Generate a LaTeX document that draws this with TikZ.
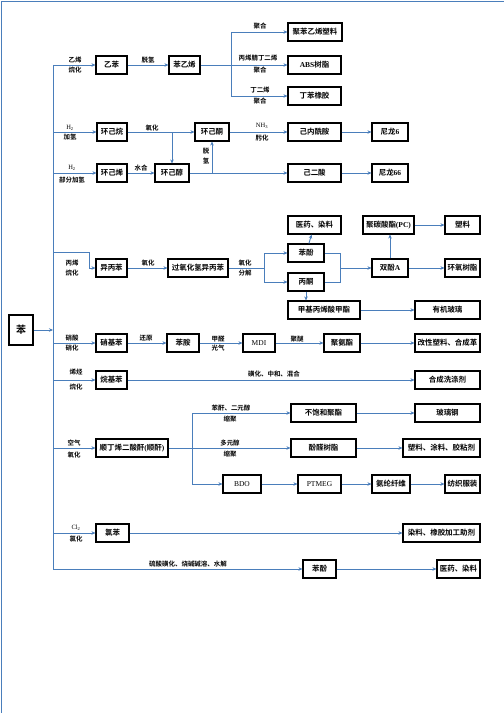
\documentclass[tikz,border=0pt]{standalone}
\usepackage{fontspec}
\setmainfont{Noto Sans CJK SC}[BoldFont={Noto Sans CJK SC Bold}]
\newfontfamily\latin{Liberation Serif}
\usetikzlibrary{arrows.meta,positioning}
\definecolor{flowblue}{HTML}{4A7EBB}

\begin{document}
\begin{tikzpicture}[x=1bp, y=-1bp, >={Stealth[length=4bp,width=3.5bp]},
  prod/.style={draw=black, line width=1.1bp, fill=white, minimum width=#1,
    minimum height=18bp, inner sep=0pt, font=\bfseries\fontsize{7.5}{8}\selectfont},
  prod/.default=32bp,
  lbl/.style={inner sep=0pt, font=\bfseries\fontsize{6.5}{7}\selectfont},
  flow/.style={->, draw=flowblue, line width=0.9bp},
  pipe/.style={draw=flowblue, line width=0.9bp}]
  \useasboundingbox (0,0) rectangle (504,713);
  %% Page frame
  \draw[pipe] (1,713) -- (1,1) -- (504,1);

  %% Source and trunk
  \node[prod=24bp, minimum height=30bp, font=\bfseries\fontsize{10}{11}\selectfont] (ben) at (21,330) {苯};
  \foreach \n/\y in {t1/65, t2/132, t3/173, t4/252, t5/343, t6/380, t7/448, t8/533, t9/569}
    \coordinate (\n) at (53,\y);
  \draw[pipe] (t1) -- (t9);
  \draw[flow] (ben) -- (ben -| t1);

  %% ── Ethylbenzene / styrene ───────────────────────────────
  \node[prod=31bp] (ebz) at (111.5,65) {乙苯};
  \node[prod=31bp] (sty) at (184.5,65) {苯乙烯};
  \node[prod=54bp] (pst) at (315,32) {聚苯乙烯塑料};
  \node[prod=53bp] (abs) at (314.5,65) {{\latin ABS}树脂};
  \node[prod=53bp] (sbr) at (314.5,96) {丁苯橡胶};
  \coordinate (stA) at (231,32);
  \coordinate (stB) at (231,96);
  \draw[flow] (t1) -- (ebz);
  \draw[flow] (ebz) -- (sty);
  \draw[pipe] (sty) -- (sty -| stA);
  \draw[pipe] (stA) -- (stB);
  \draw[flow] (stA) -- (pst);
  \draw[flow] (sty -| stA) -- (abs);
  \draw[flow] (stB) -- (sbr);

  %% ── Cyclohexane family ───────────────────────────────────
  \node[prod=30bp] (chx) at (112,132) {环己烷};
  \node[prod=34bp] (chk) at (212,132) {环己酮};
  \node[prod=53bp] (cpl) at (314.5,132) {己内酰胺};
  \node[prod=36bp] (ny6) at (390,132) {尼龙{\latin 6}};
  \node[prod=30bp] (chn) at (112,173) {环己烯};
  \node[prod=34bp] (chl) at (172,173) {环己醇};
  \node[prod=53bp] (adp) at (314.5,173) {己二酸};
  \node[prod=36bp] (ny66) at (390,173) {尼龙{\latin 66}};
  \draw[flow] (t2) -- (chx);
  \draw[flow] (chx) -- (chk);
  \draw[flow] (chx -| chl) -- (chl);
  \draw[flow] (chk) -- (cpl);
  \draw[flow] (cpl) -- (ny6);
  \draw[flow] (t3) -- (chn);
  \draw[flow] (chn) -- (chl);
  \draw[flow] (chl) -- (adp);
  \draw[flow] (chl -| chk) -- (chk);
  \draw[flow] (adp) -- (ny66);

  %% ── Cumene route ─────────────────────────────────────────
  \node[prod=31bp] (cum) at (111.5,268) {异丙苯};
  \node[prod=60bp] (chp) at (198,268) {过氧化氢异丙苯};
  \node[prod=36bp] (phe) at (306,253) {苯酚};
  \node[prod=36bp] (ace) at (306,282) {丙酮};
  \node[prod=53bp] (med) at (314.5,225) {医药、染料};
  \node[prod=72bp] (mma) at (324,310) {甲基丙烯酸甲酯};
  \node[prod=36bp] (bpa) at (390,268) {双酚{\latin A}};
  \node[prod=51bp] (pc) at (388.5,225) {聚碳酸酯{\latin (PC)}};
  \node[prod=35bp] (pls) at (462.5,225) {塑料};
  \node[prod=35bp] (epx) at (462.5,268) {环氧树脂};
  \node[prod=65bp] (pmm) at (447.5,310) {有机玻璃};
  \coordinate (cuA) at (89,252);
  \coordinate (ox) at (264,268);
  \coordinate (bp) at (340,268);
  \draw[flow] (t4) -- (cuA) |- (cum);
  \draw[flow] (cum) -- (chp);
  \draw[pipe] (chp) -- (ox);
  \draw[flow] (ox) |- (phe);
  \draw[flow] (ox) |- (ace);
  \draw[flow] (phe) -- (med);
  \draw[flow] (ace.south) -- (ace.south |- mma.north);
  \draw[pipe] (phe) -| (bp);
  \draw[pipe] (ace) -| (bp);
  \draw[flow] (bp) -- (bpa);
  \draw[flow] (bpa.north) -- (bpa.north |- pc.south);
  \draw[flow] (pc) -- (pls);
  \draw[flow] (bpa) -- (epx);
  \draw[flow] (mma) -- (pmm);

  %% ── Nitrobenzene / MDI ───────────────────────────────────
  \node[prod=31bp] (nbz) at (111.5,343) {硝基苯};
  \node[prod=32bp] (anl) at (183,343) {苯胺};
  \node[prod=32bp] (mdi) at (259,343) {{\latin\mdseries MDI}};
  \node[prod=36bp] (pur) at (342,343) {聚氨酯};
  \node[prod=65bp] (mpl) at (447.5,343) {改性塑料、合成革};
  \draw[flow] (t5) -- (nbz);
  \draw[flow] (nbz) -- (anl);
  \draw[flow] (anl) -- (mdi);
  \draw[flow] (mdi) -- (pur);
  \draw[flow] (pur) -- (mpl);

  %% ── Alkylbenzene ─────────────────────────────────────────
  \node[prod=31bp] (alb) at (111.5,380) {烷基苯};
  \node[prod=65bp] (det) at (447.5,380) {合成洗涤剂};
  \draw[flow] (t6) -- (alb);
  \draw[flow] (alb) -- (det);

  %% ── Maleic anhydride ─────────────────────────────────────
  \node[prod=72bp] (maa) at (132,448) {顺丁烯二酸酐{\latin (}顺酐{\latin )}};
  \node[prod=65bp] (ups) at (323.5,413) {不饱和聚酯};
  \node[prod=65bp] (frp) at (447.5,413) {玻璃钢};
  \node[prod=65bp] (pfr) at (323.5,448) {酚醛树脂};
  \node[prod=77bp] (pca) at (441.5,448) {塑料、涂料、胶粘剂};
  \node[prod=38bp] (bdo) at (242,484) {{\latin\mdseries BDO}};
  \node[prod=43bp] (ptm) at (319.5,484) {{\latin\mdseries PTMEG}};
  \node[prod=38bp] (spx) at (391,484) {氨纶纤维};
  \node[prod=35bp] (tex) at (462.5,484) {纺织服装};
  \coordinate (maT) at (192,413);
  \coordinate (maB) at (192,484);
  \draw[flow] (t7) -- (maa);
  \draw[flow] (maa) -- (pfr);
  \draw[pipe] (maT) -- (maB);
  \draw[flow] (maT) -- (ups);
  \draw[flow] (maB) -- (bdo);
  \draw[flow] (ups) -- (frp);
  \draw[flow] (pfr) -- (pca);
  \draw[flow] (bdo) -- (ptm);
  \draw[flow] (ptm) -- (spx);
  \draw[flow] (spx) -- (tex);

  %% ── Chlorobenzene / phenol ───────────────────────────────
  \node[prod=33bp] (clb) at (112.5,533) {氯苯};
  \node[prod=77bp] (dye) at (441.5,533) {染料、橡胶加工助剂};
  \node[prod=33bp] (phb) at (319.5,569) {苯酚};
  \node[prod=43bp] (meb) at (458.5,569) {医药、染料};
  \draw[flow] (t8) -- (clb);
  \draw[flow] (clb) -- (dye);
  \draw[flow] (t9) -- (phb);
  \draw[flow] (phb) -- (meb);

  %% Process labels
  \foreach \x/\y/\t [count=\i] in {75/60/乙烯, 75/70/烷化, 148/60/脱氢, 260/26/聚合,
      258/58/丙烯腈丁二烯, 260/70/聚合, 260/90/丁二烯, 260/101/聚合,
      70/128/{{\latin\mdseries H\textsubscript{2}}}, 70/137/加氢, 152/128/氧化,
      262/126/{{\latin\mdseries NH\textsubscript{3}}}, 262/138/肟化, 206/151/脱, 206/161/氢,
      72/168/{{\latin\mdseries H\textsubscript{2}}}, 72/180/部分加氢, 141/168/水合,
      72/263/丙烯, 72/273/烷化, 148/263/氧化, 245/263/氧化, 245/273/分解,
      72/338/硝酸, 72/348/硝化, 146/338/还原, 218/339/甲醛, 218/348/光气, 297/339/聚醚,
      76/372/烯烃, 76/387/烷化, 274/374/磺化、中和、混合,
      74/443/空气, 74/455/氧化, 231/408/苯酐、二元醇, 230/419/缩聚, 230/443/多元醇, 230/454/缩聚,
      76/528/{{\latin\mdseries Cl\textsubscript{2}}}, 76/539/氯化, 188/564/硫酸磺化、烧碱碱溶、水解}
    \node[lbl] (lab\i) at (\x,\y) {\t};
\end{tikzpicture}
\end{document}
